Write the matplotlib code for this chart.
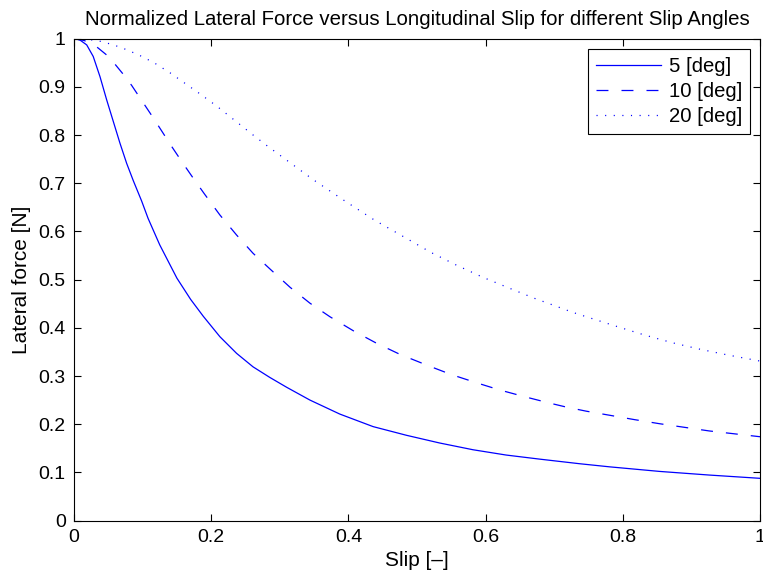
import numpy as np
import matplotlib
matplotlib.use('Agg')
import matplotlib.pyplot as plt
from matplotlib.ticker import FormatStrFormatter

# values
slip_5 = [0, 0.0087, 0.0185, 0.028, 0.0379, 0.0476, 0.0573, 0.067, 0.0768, 0.0865,
          0.0986, 0.108, 0.125, 0.150, 0.170, 0.1884, 0.2127, 0.237, 0.261, 0.2855,
          0.310, 0.344, 0.3875, 0.436, 0.4846, 0.533, 0.5816, 0.630, 0.679, 0.737,
          0.781, 0.854, 0.926, 1.0]
force_5 = [1.0, 0.997, 0.987, 0.963, 0.921, 0.873, 0.828, 0.783, 0.741, 0.705,
           0.663, 0.627, 0.572, 0.503, 0.459, 0.424, 0.3815, 0.347, 0.319, 0.297,
           0.2766, 0.250, 0.221, 0.195, 0.177, 0.161, 0.147, 0.136, 0.1275, 0.118,
           0.1115, 0.102, 0.0945, 0.0877]

slip_10 = [0, 0.015, 0.033, 0.0476, 0.0597, 0.0718, 0.084, 0.0985, 0.113, 0.128,
           0.142, 0.158, 0.174, 0.190, 0.2127, 0.237, 0.261, 0.288, 0.315, 0.344,
           0.373, 0.407, 0.441, 0.475, 0.5176, 0.550, 0.5866, 0.6205, 0.657, 0.691,
           0.7177, 0.7468, 0.781, 0.817, 0.8536, 0.890, 0.926, 0.963, 1.0]
force_10 = [1.0, 0.996, 0.983, 0.966, 0.947, 0.926, 0.903, 0.872, 0.841, 0.808,
            0.777, 0.743, 0.710, 0.678, 0.634, 0.5925, 0.5546, 0.519, 0.484, 0.451,
            0.423, 0.394, 0.368, 0.345, 0.3207, 0.303, 0.286, 0.271, 0.257, 0.2446,
            0.2355, 0.227, 0.2185, 0.2095, 0.201, 0.1935, 0.186, 0.180, 0.174]

slip_20 = [0, 0.02, 0.0418, 0.068, 0.0937, 0.1166, 0.140, 0.162, 0.184, 0.208,
           0.239, 0.261, 0.283, 0.305, 0.327, 0.349, 0.372, 0.395, 0.4385, 0.4845,
           0.520, 0.5575, 0.596, 0.635, 0.6715, 0.698, 0.727, 0.754, 0.793, 0.8317,
           0.8722, 0.911, 0.953, 1.0]
force_20 = [1.0, 0.9985, 0.9936, 0.982, 0.9666, 0.950, 0.929, 0.907, 0.885, 0.860,
            0.825, 0.800, 0.776, 0.753, 0.730, 0.707, 0.685, 0.663, 0.623, 0.5857,
            0.5566, 0.530, 0.5048, 0.482, 0.461, 0.4473, 0.432, 0.4197, 0.402, 0.385,
            0.369, 0.356, 0.3436, 0.331]

labels = ['5 [deg]', '10 [deg]', '20 [deg]']
x_ticks = [0, 0.2, 0.4, 0.6, 0.8, 1]
y_ticks = [0, 0.1, 0.2, 0.3, 0.4, 0.5, 0.6, 0.7, 0.8, 0.9, 1]

plt.rcParams['font.family'] = ['Liberation Sans', 'DejaVu Sans']
plt.rcParams['font.size'] = 14
plt.rcParams['lines.scale_dashes'] = False

fig = plt.figure(figsize=(7.63, 5.77), dpi=100)
ax = fig.add_axes([74 / 763, 1 - 520.6 / 577, 686 / 763, 482 / 577])

ax.plot(slip_5, force_5, color='blue', lw=0.9, label=labels[0])
ax.plot(slip_10, force_10, color='blue', lw=0.9, linestyle=(0, (8.6, 9.4)), label=labels[1])
ax.plot(slip_20, force_20, color='blue', lw=0.9, linestyle=(0, (0.8, 5.4)), label=labels[2])

ax.set_xlim(0, 1)
ax.set_ylim(0, 1)
ax.set_xticks(x_ticks)
ax.set_yticks(y_ticks)
ax.xaxis.set_major_formatter(FormatStrFormatter('%g'))
ax.yaxis.set_major_formatter(FormatStrFormatter('%g'))
ax.tick_params(direction='in', length=5, width=0.8, top=True, right=True, pad=6)
for s in ax.spines.values():
    s.set_linewidth(0.8)

ax.set_title('Normalized Lateral Force versus Longitudinal Slip for different Slip Angles',
             fontsize=14.7, pad=10)
ax.set_xlabel('Slip [\u2013]', fontsize=15, labelpad=4)
ax.set_ylabel('Lateral force [N]', fontsize=15, labelpad=5)

leg = ax.legend(loc='upper right', bbox_to_anchor=(0.9854, 0.978), borderaxespad=0,
                fancybox=False, shadow=False, framealpha=1, edgecolor='black',
                fontsize=14.6, handlelength=3.2, handletextpad=0.4, labelspacing=0.3,
                borderpad=0.38)
leg.get_frame().set_linewidth(0.8)

fig.savefig('out.png', dpi=100)
